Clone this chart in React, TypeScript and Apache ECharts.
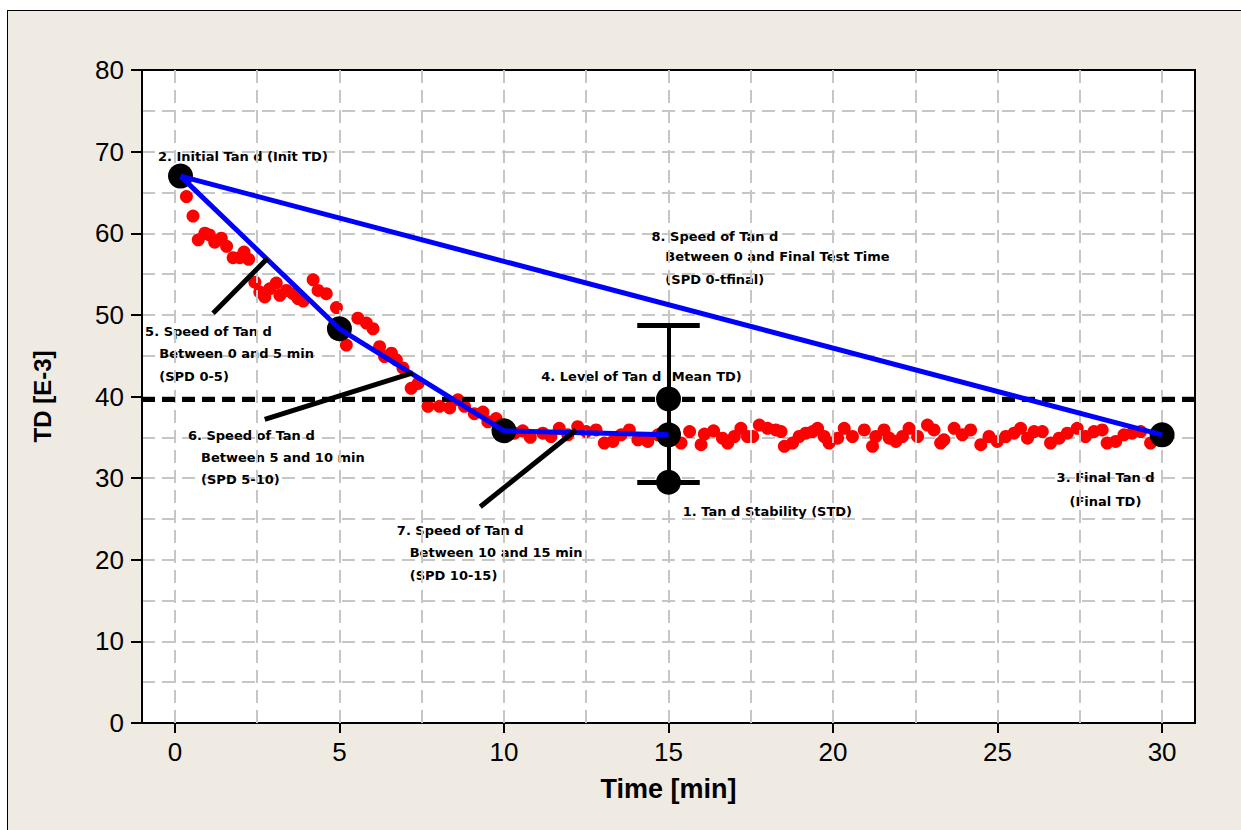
import React, { useEffect, useRef } from "react";
import * as echarts from "echarts";

// ---- data ----
const measTime = [
  0.35, 0.55, 0.71, 0.91, 1.05, 1.21, 1.41, 1.57, 1.77, 1.97, 2.1, 2.24, 2.43, 2.58, 2.73, 2.88, 3.08, 3.19, 3.39,
  3.59, 3.74, 3.9, 4.2, 4.35, 4.6, 4.91, 5.21, 5.56, 5.82, 6.02, 6.22, 6.37, 6.58, 6.73, 6.93, 7.18, 7.39, 7.69,
  8.04, 8.35, 8.6, 8.8, 9.1, 9.36, 9.51, 9.76, 10.05, 10.32, 10.57, 10.8, 11.18, 11.43, 11.68, 11.94, 12.24, 12.5,
  12.8, 13.05, 13.31, 13.56, 13.81, 14.07, 14.37, 14.68, 14.9, 15.15, 15.38, 15.64, 15.99, 16.09, 16.37, 16.64,
  16.8, 17.0, 17.2, 17.4, 17.56, 17.76, 18.01, 18.26, 18.42, 18.52, 18.77, 18.97, 19.17, 19.38, 19.53, 19.73,
  19.88, 20.14, 20.34, 20.59, 20.95, 21.2, 21.3, 21.55, 21.71, 21.91, 22.11, 22.31, 22.57, 22.87, 23.07, 23.27,
  23.37, 23.68, 23.93, 24.18, 24.49, 24.74, 24.99, 25.25, 25.5, 25.7, 25.91, 26.11, 26.36, 26.61, 26.87, 27.12,
  27.42, 27.67, 27.93, 28.18, 28.33, 28.59, 28.84, 29.09, 29.35, 29.65,
];
const measTD = [
  64.5, 62.1, 59.2, 60.0, 59.8, 58.9, 59.4, 58.4, 57.0, 57.0, 57.7, 56.8, 54.0, 52.8, 52.2, 53.2, 53.9, 52.4, 53.0,
  52.6, 52.0, 51.7, 54.3, 53.0, 52.6, 50.9, 46.3, 49.6, 49.0, 48.3, 46.1, 44.9, 45.3, 44.5, 43.5, 41.0, 41.6, 38.8,
  38.8, 38.6, 39.6, 38.8, 37.9, 38.1, 36.9, 37.3, 35.6, 35.5, 35.8, 35.0, 35.5, 35.1, 36.1, 35.3, 36.3, 35.7,
  35.9, 34.3, 34.5, 35.3, 35.9, 34.7, 34.5, 35.3, 35.0, 35.8, 34.3, 35.7, 34.1, 35.4, 35.8, 34.9,
  34.3, 35.1, 36.1, 35.1, 35.1, 36.5, 36.1, 35.9, 35.7, 33.9, 34.3, 35.1, 35.5, 35.7, 36.1, 35.1,
  34.3, 34.9, 36.1, 35.1, 35.9, 33.9, 35.1, 35.9, 34.9, 34.5, 35.1, 36.1, 35.1, 36.5, 35.9, 34.3,
  34.7, 36.1, 35.3, 35.9, 34.1, 35.1, 34.5, 35.1, 35.5, 36.1, 34.9, 35.7, 35.7, 34.3, 34.9, 35.5,
  36.1, 35.1, 35.7, 35.9, 34.3, 34.5, 35.3, 35.5, 35.7, 34.3,
];

// key points: [time, TD]
const initTD = [0.17, 67.0];
const td5 = [5, 48.3];
const td10 = [10, 35.8];
const td15 = [15, 35.3];
const finalTD = [30, 35.3];
const meanTD = 39.7;
const stdLow = 29.5;
const stdHigh = 48.7;
const capHalf = 0.95;

// pointer lines for speed annotations
const pointer5 = [[1.16, 50.2], [2.81, 56.9]];
const pointer6 = [[2.73, 37.2], [7.23, 42.9]];
const pointer7 = [[9.28, 26.5], [12.19, 35.9]];

const xTicks = [0, 5, 10, 15, 20, 25, 30];
const xMinorGrid = [0, 2.5, 5, 7.5, 10, 12.5, 15, 17.5, 20, 22.5, 25, 27.5, 30];

const annotations: { text: string; at: number[] }[] = [
  { text: "2. Initial Tan d (Init TD)", at: [-0.5, 69.4] },
  { text: "8. Speed of Tan d", at: [14.5, 59.6] },
  { text: "Between 0 and Final Test Time", at: [14.92, 57.1] },
  { text: "(SPD 0-tfinal)", at: [14.92, 54.3] },
  { text: "5. Speed of Tan d", at: [-0.89, 47.9] },
  { text: "Between 0 and 5 min", at: [-0.46, 45.2] },
  { text: "(SPD 0-5)", at: [-0.46, 42.4] },
  { text: "4. Level of Tan d (Mean TD)", at: [11.15, 42.35] },
  { text: "6. Speed of Tan d", at: [0.41, 35.2] },
  { text: "Between 5 and 10 min", at: [0.81, 32.5] },
  { text: "(SPD 5-10)", at: [0.81, 29.8] },
  { text: "7. Speed of Tan d", at: [6.76, 23.5] },
  { text: "Between 10 and 15 min", at: [7.15, 20.8] },
  { text: "(SPD 10-15)", at: [7.15, 18.0] },
  { text: "1. Tan d Stability (STD)", at: [15.45, 25.9] },
  { text: "3. Final Tan d", at: [26.81, 30.0] },
  { text: "(Final TD)", at: [27.2, 27.1] },
];

const GRID_COLOR = "#c6c6c6";

export default function App() {
  const ref = useRef<HTMLDivElement>(null);
  useEffect(() => {
    if (!ref.current) return;
    const chart = echarts.init(ref.current, undefined, { renderer: "svg" });
    const lineSeries = (data: number[][], color: string, width: number, z: number) => ({
      type: "line",
      data,
      symbol: "none",
      silent: true,
      z,
      lineStyle: { color, width, cap: "butt", opacity: 1 },
    });
    const segment = (a: number[], b: number[], width: number) => [
      { coord: a, lineStyle: { color: "#000", width, type: "solid" } },
      { coord: b },
    ];
    chart.setOption({
      animation: false,
      backgroundColor: "transparent",
      grid: {
        left: 142,
        top: 70,
        right: 46,
        bottom: 107,
        show: true,
        backgroundColor: "#ffffff",
        borderColor: "#000",
        borderWidth: 2,
      },
      xAxis: [
        {
          type: "value",
          min: -1,
          max: 31,
          name: "Time [min]",
          nameLocation: "middle",
          nameGap: 52,
          nameTextStyle: { fontFamily: "Liberation Sans", fontWeight: "bold", fontSize: 27, color: "#000" },
          axisLine: { show: true, onZero: false, lineStyle: { color: "#000", width: 2 } },
          axisTick: { show: true, length: 10, lineStyle: { color: "#000", width: 2 }, customValues: xTicks },
          axisLabel: {
            customValues: xTicks,
            margin: 16,
            fontFamily: "Liberation Sans",
            fontSize: 26,
            color: "#000",
            formatter: (v: number) => (xTicks.indexOf(v) >= 0 ? String(v) : ""),
          },
          splitLine: { show: false },
        },
        {
          type: "value",
          position: "top",
          min: -1,
          max: 31,
          axisLine: { show: true, onZero: false, lineStyle: { color: "#000", width: 2 } },
          axisTick: { show: false },
          axisLabel: { show: false },
          splitLine: { show: false },
        },
      ],
      yAxis: [
        {
          type: "value",
          min: 0,
          max: 80,
          interval: 10,
          name: "TD [E-3]",
          nameLocation: "middle",
          nameGap: 88,
          nameTextStyle: { fontFamily: "Liberation Sans", fontWeight: "bold", fontSize: 24, color: "#000" },
          axisLine: { show: true, onZero: false, lineStyle: { color: "#000", width: 2 } },
          axisTick: { show: true, length: 11, lineStyle: { color: "#000", width: 2 } },
          axisLabel: { margin: 18, fontFamily: "Liberation Sans", fontSize: 26, color: "#000" },
          splitLine: { show: true, lineStyle: { color: GRID_COLOR, width: 2, type: [13, 7] } },
          minorTick: { show: false, splitNumber: 2 },
          minorSplitLine: { show: true, lineStyle: { color: GRID_COLOR, width: 2, type: [13, 7] } },
        },
        {
          type: "value",
          position: "right",
          min: 0,
          max: 80,
          interval: 10,
          axisLine: { show: true, onZero: false, lineStyle: { color: "#000", width: 2 } },
          axisTick: { show: false },
          axisLabel: { show: false },
          splitLine: { show: false },
        },
      ],
      series: [
        {
          type: "line",
          data: [],
          silent: true,
          z: 1,
          markLine: {
            silent: true,
            symbol: "none",
            label: { show: false },
            lineStyle: { color: GRID_COLOR, width: 2, type: [13, 7] },
            data: xMinorGrid.map((x) => ({ xAxis: x })),
          },
        },
        {
          type: "scatter",
          data: measTime.map((t, i) => [t, measTD[i]]),
          symbolSize: 13,
          itemStyle: { color: "#ff0000", opacity: 1 },
          silent: true,
          z: 2,
        },
        {
          type: "line",
          data: [],
          silent: true,
          z: 3,
          markLine: {
            silent: true,
            symbol: "none",
            label: { show: false },
            lineStyle: { color: "#000", width: 5, type: [13, 7], opacity: 1 },
            data: [{ yAxis: meanTD }],
          },
        },
        // annotation texts
        {
          type: "scatter",
          silent: true,
          z: 3,
          symbolSize: 1,
          itemStyle: { color: "rgba(0,0,0,0)", opacity: 1 },
          data: annotations.map((a) => ({ name: a.text, value: a.at })),
          label: {
            show: true,
            position: [0, 0],
            align: "left",
            verticalAlign: "middle",
            formatter: "{b}",
            fontFamily: "DejaVu Sans",
            fontWeight: "bold",
            fontSize: 13,
            color: "#000",
            opacity: 1,
          },
        },
        // error bar
        {
          type: "line",
          data: [],
          silent: true,
          z: 4,
          markLine: {
            silent: true,
            symbol: "none",
            label: { show: false },
            data: [
              segment([td15[0], stdLow], [td15[0], stdHigh], 4),
              segment([td15[0] - capHalf, stdHigh], [td15[0] + capHalf, stdHigh], 5),
              segment([td15[0] - capHalf, stdLow], [td15[0] + capHalf, stdLow], 5),
            ],
          },
        },
        // black markers
        {
          type: "scatter",
          silent: true,
          z: 5,
          symbolSize: 25,
          itemStyle: { color: "#000", opacity: 1 },
          data: [initTD, td5, td10, td15, finalTD, [td15[0], meanTD], [td15[0], stdLow]],
        },
        // blue speed lines
        lineSeries([initTD, td5, td10, td15], "#0000ff", 5, 6),
        lineSeries([initTD, finalTD], "#0000ff", 5, 6),
        // pointer lines
        lineSeries(pointer5, "#000", 5, 7),
        lineSeries(pointer6, "#000", 5, 7),
        lineSeries(pointer7, "#000", 5, 7),
      ],
    });
    return () => chart.dispose();
  }, []);

  return (
    <div style={{ position: "fixed", left: 0, top: 0, width: 1241, height: 830, background: "#fff", overflow: "hidden" }}>
      <div
        style={{
          position: "absolute",
          left: 7,
          top: 10,
          width: 1260,
          height: 850,
          background: "#efebe2",
          border: "1.5px solid #000",
        }}
      />
      <div ref={ref} style={{ position: "absolute", left: 0, top: 0, width: 1241, height: 830 }} />
    </div>
  );
}
